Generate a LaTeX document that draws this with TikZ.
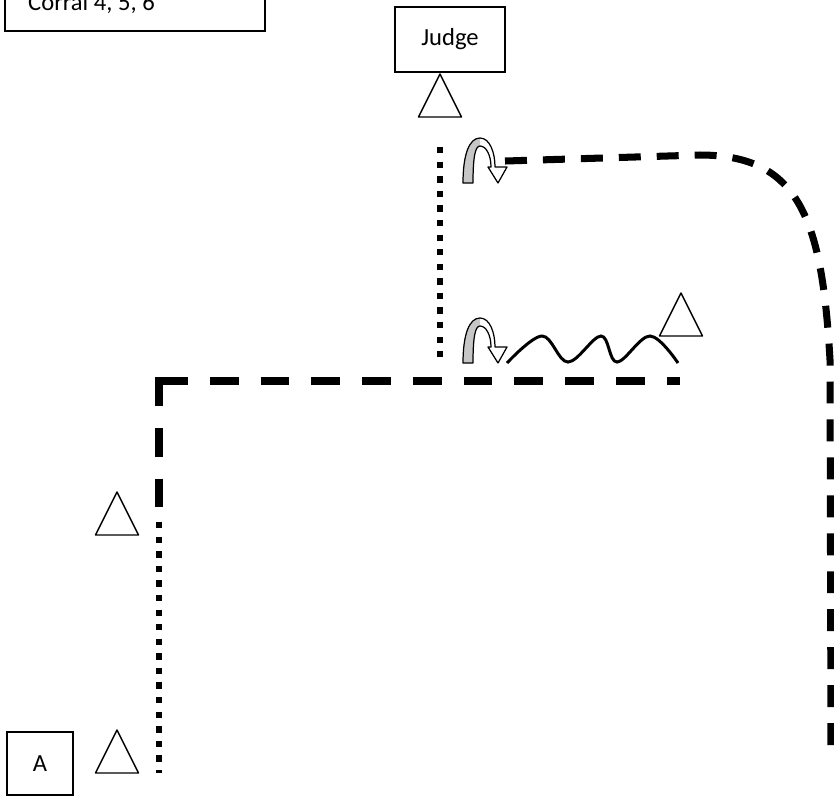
\documentclass[tikz,border=0pt]{standalone}
\usepackage{fontspec}
\setmainfont{Carlito}
\usetikzlibrary{positioning}

\begin{document}
\begin{tikzpicture}[x=0.02cm,y=-0.02cm,
    box/.style={draw,line width=0.8pt,inner sep=0pt,font=\fontsize{14}{16}\selectfont},
    walkline/.style={line width=3.7pt,dash pattern=on 3.6pt off 4.7pt},
    trotline/.style={line width=4.5pt,dash pattern=on 16.4pt off 12.5pt},
    lopeline/.style={line width=4pt,dash pattern=on 12.5pt off 9.1pt},
    cone/.pic={\draw[line width=0.8pt,line join=round] (-21.5,0) -- (0,-43) -- (21.5,0) -- cycle;},
    uturn/.pic={
        \fill[gray!45] (0,0) .. controls (0,-28) and (6,-45) .. (17,-45) -- (17,-37)
            .. controls (12,-37) and (10,-25) .. (10,0) -- cycle;
        \draw[line width=0.7pt,line join=round] (0,0) .. controls (0,-28) and (6,-45) .. (17,-45)
            .. controls (27,-45) and (32,-30) .. (32,-16) -- (44,-16) -- (35,0) -- (25,-16) -- (28,-16)
            .. controls (28,-28) and (23,-37) .. (17,-37) .. controls (12,-37) and (10,-25) .. (10,0) -- cycle;
    }]
    \useasboundingbox (0,0) rectangle (834,796);

    % boxes
    \draw[line width=0.9pt] (5,-30) rectangle (265,31);
    \node[anchor=base west,font=\fontsize{14}{16}\selectfont] (corral) at (22,10) {Corral 4, 5, 6};
    \node[box,minimum width=2.2cm,minimum height=1.3cm] (judge) at (450,39.5) {Judge};
    \node[box,minimum width=1.32cm,minimum height=1.26cm] (start) at (40,763.5) {A};

    % cones
    \pic at (440,117) {cone};
    \pic at (681,336) {cone};
    \pic at (117,535) {cone};
    \pic at (117,773) {cone};

    % track
    \coordinate (walkA) at (159,773);
    \coordinate (walkB) at (159,522);
    \coordinate (corner) at (159,381);
    \coordinate (trotend) at (680,381);
    \coordinate (walkC) at (440,147);
    \coordinate (walkD) at (440,358);
    \coordinate (lopeA) at (505,161);
    \coordinate (lopeB) at (700,155);
    \coordinate (lopeC) at (830,360);
    \coordinate (lopeD) at (831,747);

    \draw[walkline] (walkB) -- (walkA);
    \draw[trotline] (159,377) -- (159,513);
    \draw[trotline] (corner) -- (trotend);
    \draw[walkline] (walkC) -- (walkD);
    \draw[lopeline] (lopeA) -- (lopeB) .. controls (800,155) and (822,220) .. (lopeC) -- (lopeD);

    % turns and serpentine
    \pic at (463,183) {uturn};
    \pic at (463,363) {uturn};
    \draw[line width=1.7pt] plot[smooth,tension=0.6] coordinates
        {(507,363) (542,336) (568,362) (601,336) (617,362) (650,336) (678,363)};
\end{tikzpicture}
\end{document}
